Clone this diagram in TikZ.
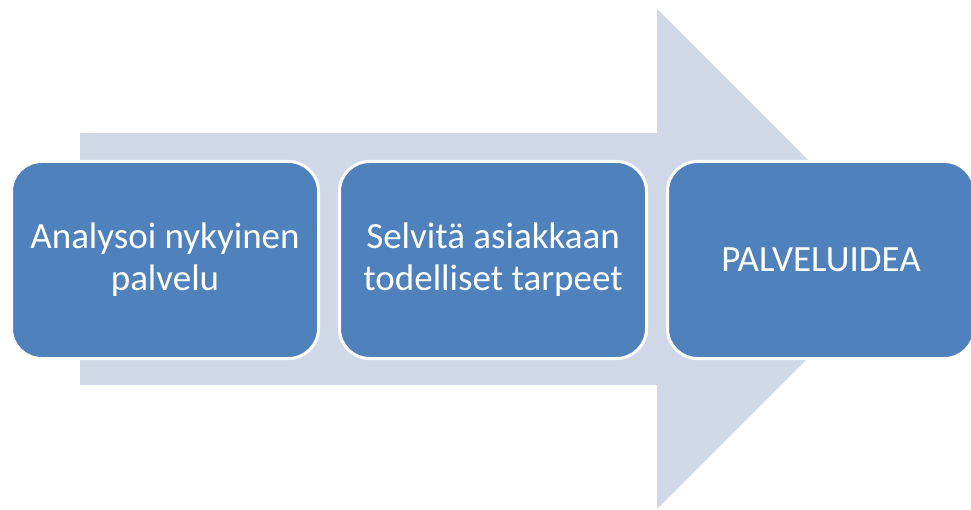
\documentclass[tikz,border=0pt]{standalone}
\usepackage{fontspec}
\setmainfont{Carlito}
\usetikzlibrary{positioning}
\definecolor{arrowgray}{HTML}{D0D8E8}
\definecolor{boxblue}{HTML}{4F81BD}
\begin{document}
\begin{tikzpicture}[x=1pt,y=1pt,
  stepbox/.style={draw=white, line width=3pt, fill=boxblue, rounded corners=30pt,
    minimum width=307pt, minimum height=197pt, align=center,
    text=white, inner sep=0pt, font=\fontsize{37}{42}\selectfont}]
  \useasboundingbox (0,0) rectangle (971,509);
  \clip (0,0) rectangle (971,509);
  % big background arrow
  \fill[arrowgray] (80,124) -- (657,124) -- (657,0) -- (907,250)
    -- (657,500) -- (657,376) -- (80,376) -- cycle;
  \node[stepbox] (1) at (165,249) {Analysoi nykyinen\\palvelu};
  \node[stepbox, right=18pt of 1] (2) {Selvitä asiakkaan\\todelliset tarpeet};
  \node[stepbox, right=18pt of 2] (3) {PALVELUIDEA};
\end{tikzpicture}
\end{document}
